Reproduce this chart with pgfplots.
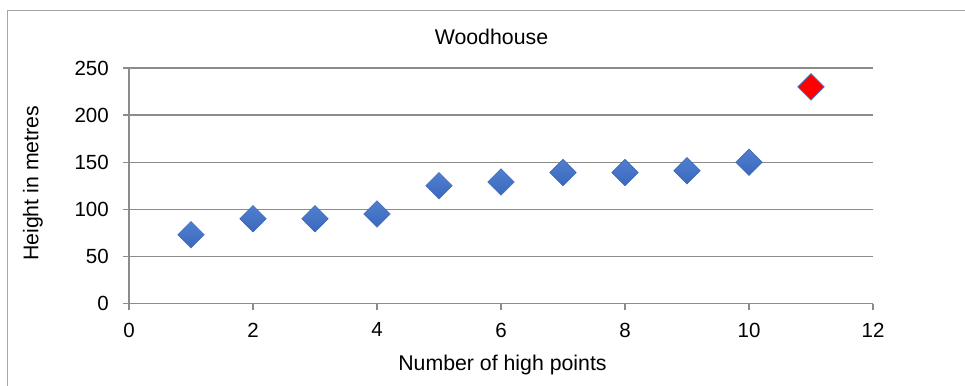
\documentclass[border=0pt]{standalone}
\usepackage{fontspec}
\setmainfont{Liberation Sans}
\usepackage{pgfplots}
\pgfplotsset{compat=1.18}

\definecolor{gridgray}{HTML}{8C8C8C}
\definecolor{framegray}{HTML}{A6A6A6}
\definecolor{markblue}{HTML}{4472C4}
\definecolor{markedge}{HTML}{3C67B8}
\definecolor{marktop}{HTML}{5D8AD6}
\definecolor{markbottom}{HTML}{2E5DB6}

\newcommand{\tickfont}{\fontsize{20.5}{24}\selectfont}
\newcommand{\labelfont}{\fontsize{21.3}{25}\selectfont}

% diamond marker with a light-to-dark vertical gradient
\pgfdeclareverticalshading{diamondblue}{100bp}{color(0bp)=(markbottom); color(100bp)=(marktop)}
\pgfdeclareplotmark{gradientdiamond}{%
  \pgfpathmoveto{\pgfqpoint{0pt}{\pgfplotmarksize}}%
  \pgfpathlineto{\pgfqpoint{\pgfplotmarksize}{0pt}}%
  \pgfpathlineto{\pgfqpoint{0pt}{-\pgfplotmarksize}}%
  \pgfpathlineto{\pgfqpoint{-\pgfplotmarksize}{0pt}}%
  \pgfpathclose
  \pgfshadepath{diamondblue}{0}%
  \pgfusepathqstroke
}

\begin{document}
\begin{tikzpicture}
  % page extent
  \useasboundingbox (-129pt,-81.5pt) rectangle (836pt,303.5pt);
  % chart area border
  \draw[framegray, line width=1pt] (-121pt,-100pt) -- (-121pt,293pt) -- (900pt,293pt);
  \begin{axis}[
    at={(0pt,0pt)}, anchor=south west,
    scale only axis,
    width=744pt, height=235.5pt,
    xmin=0, xmax=12, ymin=0, ymax=250,
    xtick={0,2,...,12}, ytick={0,50,...,250},
    axis lines=left,
    axis line style={-, gridgray, line width=1.2pt},
    tick style={gridgray, line width=1.2pt},
    tick align=outside,
    major tick length=6pt,
    ymajorgrids,
    grid style={gridgray, line width=1.2pt},
    /pgf/number format/assume math mode=true,
    tick label style={font=\tickfont, inner sep=0pt, text=black},
    yticklabel style={anchor=east, xshift=-14pt},
    xticklabel style={anchor=north, yshift=-13pt},
    title={Woodhouse},
    title style={font=\labelfont, at={(axis description cs:0.4872,1.0764)}, anchor=base, inner sep=0pt},
    xlabel={Number of high points},
    xlabel style={font=\labelfont, at={(axis description cs:0.502,-0.2854)}, anchor=base, inner sep=0pt},
    ylabel={Height in metres},
    ylabel style={font=\labelfont, at={(axis description cs:-0.1219,0.51)}, anchor=base, rotate=0, inner sep=0pt},
    clip=false,
  ]
    \addplot[only marks, mark=gradientdiamond, mark size=13.2pt,
      mark options={draw=markedge, line width=0.6pt}]
      coordinates {(1,73) (2,90) (3,90) (4,95) (5,125) (6,129) (7,139) (8,139) (9,141) (10,150)};
    \addplot[only marks, mark=square*, mark size=9.3pt,
      mark options={rotate=45, fill=red, draw=markblue, line width=0.9pt}]
      coordinates {(11,230)};
  \end{axis}
\end{tikzpicture}
\end{document}
